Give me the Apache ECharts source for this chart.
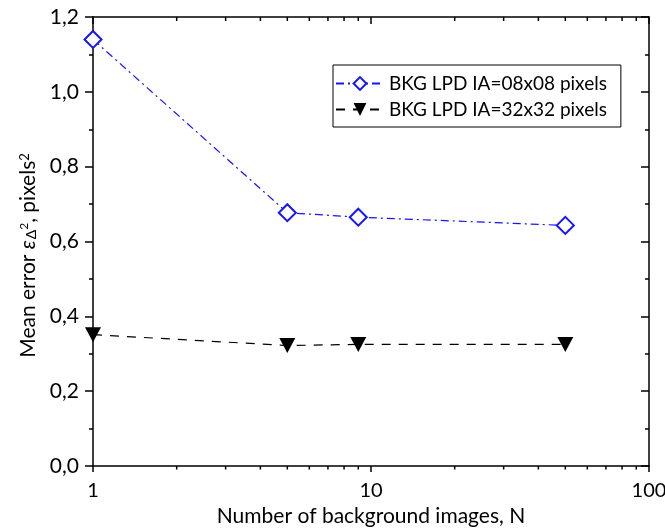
<!DOCTYPE html>
<html>
<head>
<meta charset="utf-8">
<script src="https://cdn.jsdelivr.net/npm/echarts@6/dist/echarts.min.js"></script>
<style>
  html, body { margin: 0; padding: 0; background: #fff; }
  #chart { width: 665px; height: 528px; }
</style>
</head>
<body>
<div id="chart"></div>
<script>
// number of background images
var nImages = [1, 5, 9, 50];
// mean error, IA 08x08
var err08 = [1.14, 0.677, 0.665, 0.643];
// mean error, IA 32x32
var err32 = [0.351, 0.322, 0.325, 0.325];
var seriesNames = ['BKG LPD IA=08x08 pixels', 'BKG LPD IA=32x32 pixels'];
// log minor ticks on the x axis
var minorTicks = [2, 3, 4, 5, 6, 7, 8, 9, 20, 30, 40, 50, 60, 70, 80, 90];

var FONT = 'Lato';

function pairs(xs, ys) {
    var out = [];
    for (var i = 0; i < xs.length; i++) out.push([xs[i], ys[i]]);
    return out;
}
function comma(v) { return v.toFixed(1).replace('.', ','); }

var axisLine = { show: true, onZero: false, lineStyle: { color: '#000', width: 1.5 } };

var option = {
    animation: false,
    backgroundColor: '#fff',
    textStyle: { fontFamily: FONT },
    grid: { left: 93, right: 16, top: 17, bottom: 62, outerBoundsMode: 'none', containLabel: false },
    legend: {
        data: seriesNames,
        orient: 'vertical',
        left: 333, top: 65,
        padding: [9, 14, 8, 2],
        itemGap: 7,
        itemWidth: 48,
        itemHeight: 16,
        borderColor: '#000',
        borderWidth: 1,
        textStyle: { fontFamily: FONT, fontSize: 19, color: '#000' }
    },
    xAxis: [{
        type: 'log', logBase: 10, min: 1, max: 100,
        position: 'bottom',
        axisLine: axisLine,
        axisTick: { show: true, inside: false, length: 6, lineStyle: { color: '#000', width: 1.5 } },
        axisLabel: { fontSize: 20, color: '#000', margin: 15, fontFamily: FONT },
        splitLine: { show: false },
        name: 'Number of background images, N',
        nameLocation: 'middle',
        nameGap: 39,
        nameTextStyle: { fontSize: 21, color: '#000', fontFamily: FONT }
    }, {
        type: 'log', logBase: 10, min: 1, max: 100,
        position: 'top',
        axisLine: axisLine,
        axisTick: { show: true, inside: true, length: 7, lineStyle: { color: '#000', width: 1.5 } },
        axisLabel: { show: false },
        splitLine: { show: false }
    }],
    yAxis: [{
        type: 'value', min: 0, max: 1.2, interval: 0.2,
        position: 'left',
        axisLine: axisLine,
        axisTick: { show: true, inside: false, length: 8, lineStyle: { color: '#000', width: 1.5 } },
        minorTick: { show: true, splitNumber: 2, length: 4, lineStyle: { color: '#000', width: 1.5 } },
        axisLabel: { fontSize: 21, color: '#000', margin: 14, fontFamily: FONT, formatter: comma },
        splitLine: { show: false },
        name: 'Mean error {i|ε}{sub|Δ}{sup|2}, pixels{sup2|2}',
        nameLocation: 'middle',
        nameRotate: 90,
        nameGap: 53,
        nameTextStyle: {
            fontSize: 21, color: '#000', fontFamily: FONT,
            padding: [0, 28, 0, 0],
            rich: {
                i: { fontSize: 21, fontStyle: 'italic', fontFamily: FONT, color: '#000', verticalAlign: 'bottom' },
                sub: { fontSize: 14, fontFamily: FONT, color: '#000', verticalAlign: 'bottom', padding: [0, 0, 0, 1] },
                sup: { fontSize: 12, fontFamily: FONT, color: '#000', verticalAlign: 'top', padding: [0, 0, 6, 0] },
                sup2: { fontSize: 13, fontFamily: FONT, color: '#000', verticalAlign: 'top' }
            }
        }
    }, {
        type: 'value', min: 0, max: 1.2, interval: 0.2,
        position: 'right',
        axisLine: axisLine,
        axisTick: { show: true, inside: true, length: 8, lineStyle: { color: '#000', width: 1.5 } },
        minorTick: { show: true, splitNumber: 2, length: 4, lineStyle: { color: '#000', width: 1.5 } },
        axisLabel: { show: false },
        splitLine: { show: false }
    }],
    series: [{
        name: seriesNames[0],
        type: 'line',
        data: pairs(nImages, err08),
        symbol: 'diamond',
        symbolSize: [17, 17],
        itemStyle: { color: '#fff', borderColor: '#1414ff', borderWidth: 2 },
        lineStyle: { color: '#1414ff', width: 1.2, type: [8, 4, 2, 4] },
        z: 5
    }, {
        name: seriesNames[1],
        type: 'line',
        data: pairs(nImages, err32),
        symbol: 'triangle',
        symbolRotate: 180,
        symbolSize: [16, 15],
        itemStyle: { color: '#000' },
        lineStyle: { color: '#000', width: 1.2, type: [9, 8] },
        z: 5
    }, {
        // minor ticks of the log axes (bottom outward, top inward)
        type: 'custom',
        silent: true,
        data: minorTicks,
        encode: { x: 0 },
        renderItem: function (params, api) {
            var v = api.value(0);
            var b = api.coord([v, 0]);
            var t = api.coord([v, 1.2]);
            var st = { stroke: '#000', lineWidth: 1.5 };
            return {
                type: 'group',
                children: [
                    { type: 'line', shape: { x1: b[0], y1: b[1], x2: b[0], y2: b[1] + 3.5 }, style: st },
                    { type: 'line', shape: { x1: t[0], y1: t[1], x2: t[0], y2: t[1] + 4 }, style: st }
                ]
            };
        },
        z: 1
    }]
};

var myChart = echarts.init(document.getElementById('chart'));
myChart.setOption(option);
</script>
</body>
</html>
